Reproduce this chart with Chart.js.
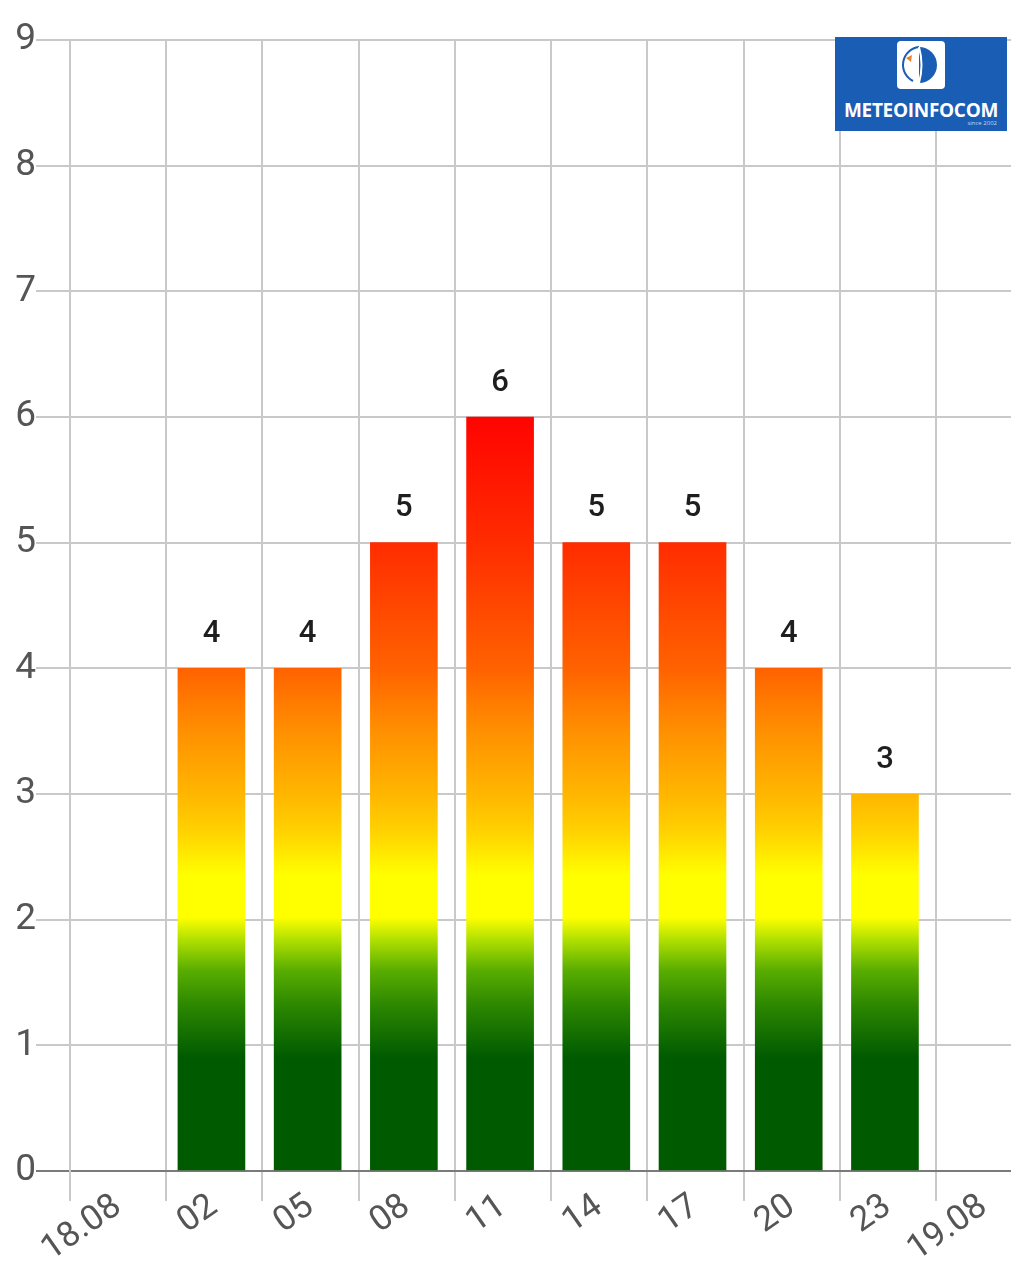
<!DOCTYPE html>
<html>
<head>
<meta charset="utf-8">
<script src="https://cdn.jsdelivr.net/npm/chart.js@4/dist/chart.umd.min.js"></script>
<style>
  html, body { margin: 0; padding: 0; background: #fff; }
  #wrap { position: relative; width: 1011px; height: 1280px; }
  #logo {
    position: absolute; left: 835px; top: 37px; width: 172px; height: 94px;
    background: #1a5db5; color: #fff; font-family: "Open Sans", sans-serif;
  }
  #logo svg { position: absolute; left: 62px; top: 4px; }
  #logo .name { position: absolute; left: 0; width: 172px; top: 60px; text-align: center; font-weight: 700; font-size: 19px; letter-spacing: -0.3px; }
  #logo .since { position: absolute; right: 10px; top: 82px; font-size: 6px; color: #c9d8f0; }
</style>
</head>
<body>
<div id="wrap">
  <canvas id="chart"></canvas>
  <div id="logo">
    <svg width="48" height="48" viewBox="0 0 48 48">
      <rect x="0" y="0" width="48" height="48" rx="4" fill="#fff"/>
      <path d="M22 6 A18 18 0 0 1 22 42 Z" fill="#1a5db5"/>
      <path d="M22 6 A18 18 0 0 0 16 40" fill="none" stroke="#1a5db5" stroke-width="2"/>
      <path d="M22 6 Q27 24 22 42" fill="none" stroke="#fff" stroke-width="2"/>
      <path d="M15 14 L9 17 L14 21 Z" fill="#e8832a"/>
    </svg>
    <div class="name">METEOINFOCOM</div>
    <div class="since">since 2002</div>
  </div>
</div>
<script>
'use strict';

const X_TICK_LABELS = ['18.08', '02', '05', '08', '11', '14', '17', '20', '23', '19.08'];
const BAR_VALUES = [4, 4, 5, 6, 5, 5, 4, 3];
// bar i sits in the interval after tick label i+1
const BAR_SLOTS = [1, 2, 3, 4, 5, 6, 7, 8];
const Y_MAX = 9;

const GRADIENT_STOPS = [
  [0, '#005a00'], [0.9, '#005a00'], [1.3, '#2a8500'], [1.6, '#5aae00'],
  [1.85, '#b4e200'], [2.02, '#ffff00'], [2.35, '#ffff00'], [2.7, '#ffd200'],
  [3.0, '#ffb600'], [3.5, '#ff9000'], [4.0, '#ff6200'], [5.0, '#ff2c00'], [6.0, '#ff0400'],
];

const GRID = '#c9c9c9';
const AXIS = '#7a7a7a';
const TICK_TEXT = '#555';

let barGradient = null;
function gradientFor(chart) {
  const { ctx, chartArea, scales } = chart;
  if (!chartArea) return null;
  if (barGradient) return barGradient;
  const top = GRADIENT_STOPS[GRADIENT_STOPS.length - 1][0];
  const y0 = scales.y.getPixelForValue(0);
  const y1 = scales.y.getPixelForValue(top);
  barGradient = ctx.createLinearGradient(0, y0, 0, y1);
  GRADIENT_STOPS.forEach(([v, c]) => barGradient.addColorStop(v / top, c));
  return barGradient;
}

const valueLabels = {
  id: 'valueLabels',
  afterDatasetsDraw(chart) {
    const { ctx } = chart;
    const meta = chart.getDatasetMeta(0);
    ctx.save();
    ctx.fillStyle = '#1e1e1e';
    ctx.font = '500 31px Roboto, sans-serif';
    ctx.textAlign = 'center';
    ctx.textBaseline = 'middle';
    meta.data.forEach((bar, i) => {
      ctx.fillText(String(BAR_VALUES[i]), bar.x, bar.y - 34);
    });
    ctx.restore();
  },
};

new Chart(document.getElementById('chart'), {
  type: 'bar',
  data: {
    datasets: [{
      data: BAR_VALUES.map((v, i) => ({ x: BAR_SLOTS[i] + 0.47, y: v })),
      backgroundColor: ctx => gradientFor(ctx.chart),
      barThickness: 67,
      borderWidth: 0,
    }],
  },
  options: {
    responsive: true,
    maintainAspectRatio: false,
    animation: false,
    layout: { padding: { top: 40, right: 0, left: 0, bottom: 0 } },
    plugins: { legend: { display: false }, tooltip: { enabled: false } },
    scales: {
      x: {
        type: 'linear',
        min: 0,
        max: 9.78,
        offset: false,
        afterBuildTicks: axis => { axis.ticks = X_TICK_LABELS.map((_, i) => ({ value: i })); },
        afterFit: axis => { axis.height = 109; },
        grid: { color: GRID, lineWidth: 2, tickLength: 30, offset: false },
        border: { color: AXIS, width: 2 },
        ticks: {
          autoSkip: false,
          minRotation: 35,
          maxRotation: 35,
          labelOffset: 48,
          padding: -15,
          color: TICK_TEXT,
          font: { family: 'Roboto, sans-serif', size: 35 },
          callback: (value, i) => X_TICK_LABELS[i],
        },
      },
      y: {
        min: 0,
        max: Y_MAX,
        afterFit: axis => { axis.width = 70; },
        grid: {
          color: c => (c.tick && c.tick.value === 0 ? AXIS : GRID),
          lineWidth: 2,
          tickLength: 34,
        },
        border: { color: GRID, width: 2 },
        ticks: {
          stepSize: 1,
          padding: 0,
          color: TICK_TEXT,
          font: { family: 'Roboto, sans-serif', size: 37 },
        },
      },
    },
  },
  plugins: [valueLabels],
});
</script>
</body>
</html>
